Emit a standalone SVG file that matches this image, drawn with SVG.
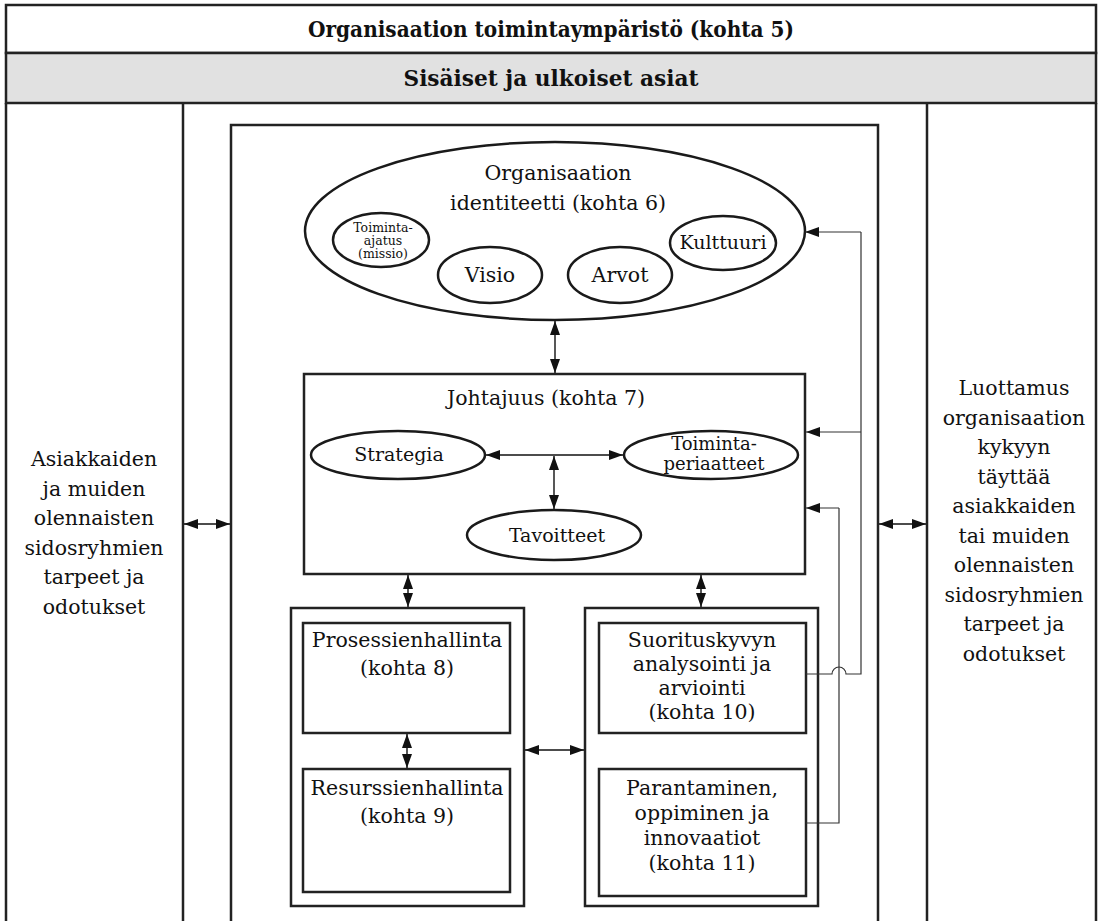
<svg xmlns="http://www.w3.org/2000/svg" width="1100" height="921" viewBox="0 0 1100 921">
  <defs>
    <marker id="ah" viewBox="0 0 14 10" refX="14" refY="5" markerWidth="14" markerHeight="10" markerUnits="userSpaceOnUse" orient="auto-start-reverse">
      <path d="M0,0 L14,5 L0,10 Z" fill="#111"/>
    </marker>
    <style>
      .frame { fill: none; stroke: #222; stroke-width: 2.5; }
      .box { fill: #fff; stroke: #222; stroke-width: 2.5; }
      .ell { fill: #fff; stroke: #1a1a1a; stroke-width: 2.5; }
      .link { fill: none; stroke: #111; stroke-width: 1.4; }
      .dbl { marker-start: url(#ah); marker-end: url(#ah); }
      .one { marker-end: url(#ah); }
      .fb { fill: none; stroke: #333; stroke-width: 1.2; }
      .t { font-family: "DejaVu Serif", "Liberation Serif", serif; font-size: 20.5px; fill: #111; text-anchor: middle; }
      .h { font-family: "DejaVu Serif", "Liberation Serif", serif; font-weight: bold; font-size: 22px; fill: #111; text-anchor: middle; }
      .s { font-size: 12.5px; }
      .m { font-size: 19px; }
      .p { font-size: 18px; }
    </style>
  </defs>

  <rect x="0" y="0" width="1100" height="921" fill="#fff"/>

  <!-- header rows -->
  <g id="header">
    <rect x="6" y="5" width="1090" height="48" fill="#fff" stroke="#222" stroke-width="2.5"/>
    <rect x="6" y="53" width="1090" height="50" fill="#e1e1e1" stroke="#222" stroke-width="2.5"/>
    <text class="h" x="551" y="37" textLength="486" lengthAdjust="spacingAndGlyphs">Organisaation toimintaympäristö (kohta 5)</text>
    <text class="h" x="551" y="86" textLength="295" lengthAdjust="spacingAndGlyphs">Sisäiset ja ulkoiset asiat</text>
  </g>

  <!-- outer frame columns -->
  <g id="frame">
    <path class="frame" d="M6,103 V921 M1096,103 V921 M183,103 V921 M927,103 V921"/>
  </g>

  <!-- stakeholder needs column -->
  <g id="needs">
    <text class="t" x="94" y="466">Asiakkaiden</text>
    <text class="t" x="94" y="495.5">ja muiden</text>
    <text class="t" x="94" y="525">olennaisten</text>
    <text class="t" x="94" y="554.5">sidosryhmien</text>
    <text class="t" x="94" y="584">tarpeet ja</text>
    <text class="t" x="94" y="613.5">odotukset</text>
  </g>

  <!-- confidence column -->
  <g id="confidence">
    <text class="t" x="1014" y="395">Luottamus</text>
    <text class="t" x="1014" y="424.5">organisaation</text>
    <text class="t" x="1014" y="454">kykyyn</text>
    <text class="t" x="1014" y="483.5">täyttää</text>
    <text class="t" x="1014" y="513">asiakkaiden</text>
    <text class="t" x="1014" y="542.5">tai muiden</text>
    <text class="t" x="1014" y="572">olennaisten</text>
    <text class="t" x="1014" y="601.5">sidosryhmien</text>
    <text class="t" x="1014" y="631">tarpeet ja</text>
    <text class="t" x="1014" y="660.5">odotukset</text>
  </g>

  <!-- organisation box -->
  <g id="organisation">
    <path class="frame" d="M231,921 V125 H878 V921"/>
  </g>

  <!-- identity -->
  <g id="identity">
    <ellipse class="ell" cx="555" cy="231" rx="250" ry="89"/>
    <text class="t" x="558" y="180">Organisaation</text>
    <text class="t" x="558" y="210">identiteetti (kohta 6)</text>
  </g>
  <g id="mission">
    <ellipse class="ell" cx="381" cy="240" rx="48" ry="27"/>
    <text class="t s" x="383" y="232">Toiminta-</text>
    <text class="t s" x="383" y="245">ajatus</text>
    <text class="t s" x="383" y="258">(missio)</text>
  </g>
  <g id="vision">
    <ellipse class="ell" cx="490" cy="275" rx="52" ry="28"/>
    <text class="t" x="490" y="282">Visio</text>
  </g>
  <g id="values">
    <ellipse class="ell" cx="620" cy="275" rx="52" ry="28"/>
    <text class="t" x="620" y="282">Arvot</text>
  </g>
  <g id="culture">
    <ellipse class="ell" cx="723" cy="243" rx="53" ry="27"/>
    <text class="t m" x="723" y="249">Kulttuuri</text>
  </g>

  <!-- leadership -->
  <g id="leadership">
    <rect class="box" x="304" y="374" width="501" height="200"/>
    <text class="t" x="546" y="405">Johtajuus (kohta 7)</text>
  </g>
  <g id="strategy">
    <ellipse class="ell" cx="398" cy="455" rx="87" ry="24"/>
    <text class="t m" x="399" y="461">Strategia</text>
  </g>
  <g id="policies">
    <ellipse class="ell" cx="711" cy="455" rx="87" ry="24"/>
    <text class="t p" x="714" y="450">Toiminta-</text>
    <text class="t p" x="714" y="470">periaatteet</text>
  </g>
  <g id="objectives">
    <ellipse class="ell" cx="554" cy="535" rx="87" ry="25"/>
    <text class="t m" x="557" y="542">Tavoitteet</text>
  </g>

  <!-- process and resource management -->
  <g id="management">
    <rect class="box" x="291" y="608" width="233" height="298"/>
  </g>
  <g id="process">
    <rect class="box" x="303" y="623" width="207" height="110"/>
    <text class="t" x="407" y="647">Prosessienhallinta</text>
    <text class="t" x="407" y="675">(kohta 8)</text>
  </g>
  <g id="resources">
    <rect class="box" x="303" y="769" width="207" height="123"/>
    <text class="t" x="407" y="795">Resurssienhallinta</text>
    <text class="t" x="407" y="823">(kohta 9)</text>
  </g>

  <!-- evaluation and improvement -->
  <g id="review">
    <rect class="box" x="585" y="608" width="233" height="298"/>
  </g>
  <g id="performance">
    <rect class="box" x="599" y="623" width="207" height="110"/>
    <text class="t" x="702" y="647">Suorituskyvyn</text>
    <text class="t" x="702" y="671">analysointi ja</text>
    <text class="t" x="702" y="695">arviointi</text>
    <text class="t" x="702" y="719">(kohta 10)</text>
  </g>
  <g id="improvement">
    <rect class="box" x="599" y="769" width="207" height="127"/>
    <text class="t" x="702" y="795">Parantaminen,</text>
    <text class="t" x="702" y="820">oppiminen ja</text>
    <text class="t" x="702" y="845">innovaatiot</text>
    <text class="t" x="702" y="870">(kohta 11)</text>
  </g>

  <!-- connectors -->
  <g id="connectors">
    <line class="link dbl" x1="184" y1="524" x2="230" y2="524"/>
    <line class="link dbl" x1="879" y1="524" x2="926" y2="524"/>
    <line class="link dbl" x1="555" y1="321" x2="555" y2="373"/>
    <line class="link dbl" x1="486" y1="455" x2="623" y2="455"/>
    <line class="link dbl" x1="554" y1="456" x2="554" y2="509"/>
    <line class="link dbl" x1="408" y1="575" x2="408" y2="607"/>
    <line class="link dbl" x1="701" y1="575" x2="701" y2="607"/>
    <line class="link dbl" x1="407" y1="734" x2="407" y2="768"/>
    <line class="link dbl" x1="525" y1="750" x2="584" y2="750"/>

    <!-- feedback from performance evaluation -->
    <path class="fb" d="M806,674 H832 A7,7 0 0 1 846,674 H861 V232"/>
    <line class="fb one" x1="861" y1="232" x2="805" y2="232"/>
    <line class="fb one" x1="861" y1="432" x2="806" y2="432"/>
    <!-- feedback from improvement -->
    <path class="fb" d="M806,823 H839 V508"/>
    <line class="fb one" x1="839" y1="508" x2="806" y2="508"/>
  </g>
</svg>
